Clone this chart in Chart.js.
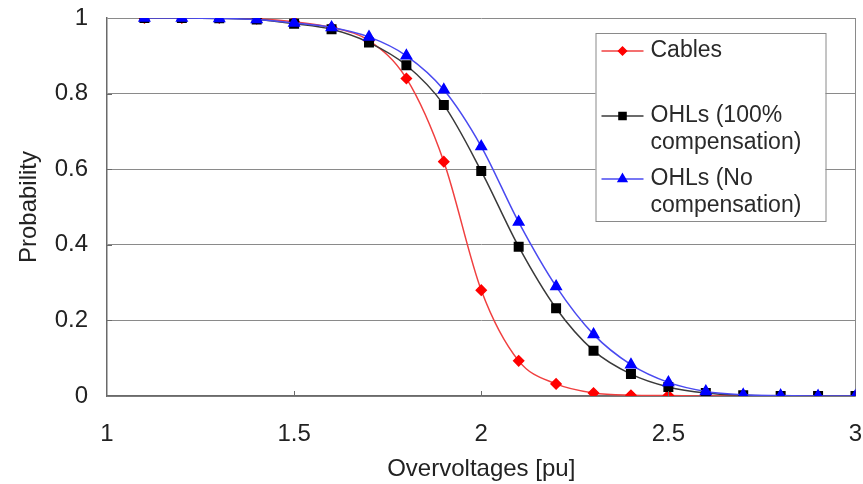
<!DOCTYPE html>
<html>
<head>
<meta charset="utf-8">
<script src="https://cdn.jsdelivr.net/npm/chart.js@4.4.0/dist/chart.umd.min.js"></script>
<style>
  html, body { margin: 0; padding: 0; background: #fff; }
  #wrap { width: 863px; height: 484px; }
</style>
</head>
<body>
<div id="wrap"><canvas id="chart"></canvas></div>
<script>
// Overvoltage values (pu) and probabilities
const overvoltages = [1.1, 1.2, 1.3, 1.4, 1.5, 1.6, 1.7, 1.8, 1.9, 2.0, 2.1, 2.2, 2.3, 2.4, 2.5, 2.6, 2.7, 2.8, 2.9, 3.0];
const cables = [1, 1, 1, 0.998, 0.99, 0.975, 0.94, 0.84, 0.62, 0.28, 0.093, 0.032, 0.008, 0.002, 0.001, 0, 0, 0, 0, 0];
const ohlFull = [1, 1, 0.999, 0.996, 0.985, 0.97, 0.935, 0.875, 0.77, 0.595, 0.395, 0.232, 0.12, 0.058, 0.024, 0.008, 0.002, 0, 0, 0];
const ohlNone = [1, 1, 0.999, 0.996, 0.987, 0.975, 0.95, 0.9, 0.81, 0.66, 0.46, 0.29, 0.163, 0.083, 0.036, 0.012, 0.003, 0.001, 0, 0];
const xTicks = [1, 1.5, 2, 2.5, 3];
const yTicks = [0, 0.2, 0.4, 0.6, 0.8, 1];

const toPoints = vals => overvoltages.map((x, i) => ({ x: x, y: vals[i] }));

// short inward tick marks, like the original plot
const innerTicks = {
    id: 'innerTicks',
    afterDatasetsDraw(chart) {
        const ctx = chart.ctx;
        const { x, y } = chart.scales;
        const a = chart.chartArea;
        ctx.save();
        ctx.strokeStyle = '#6a6a6a';
        ctx.lineWidth = 1;
        xTicks.slice(1, -1).forEach(v => {
            const px = Math.round(x.getPixelForValue(v)) + 0.5;
            ctx.beginPath(); ctx.moveTo(px, a.bottom); ctx.lineTo(px, a.bottom - 5); ctx.stroke();
        });
        yTicks.slice(1, -1).forEach(v => {
            const py = Math.round(y.getPixelForValue(v)) + 0.5;
            ctx.beginPath(); ctx.moveTo(a.left, py); ctx.lineTo(a.left + 5, py); ctx.stroke();
        });
        ctx.restore();
    }
};

// legend drawn by hand so the long labels can wrap over two lines
const boxLegend = {
    id: 'boxLegend',
    afterDraw(chart) {
        const ctx = chart.ctx;
        const area = chart.chartArea;
        const left = area.right - 260, top = area.top + 15;
        ctx.save();
        ctx.fillStyle = '#fff';
        ctx.fillRect(left, top, 230, 188);
        ctx.strokeStyle = '#8a8a8a';
        ctx.lineWidth = 1;
        ctx.strokeRect(left + 0.5, top + 0.5, 230, 188);
        const rows = [
            { ds: 0, lines: ['Cables'], y: 18 },
            { ds: 1, lines: ['OHLs (100%', 'compensation)'], y: 83 },
            { ds: 2, lines: ['OHLs (No', 'compensation)'], y: 146 }
        ];
        ctx.font = '23px "Liberation Sans", Arial, sans-serif';
        ctx.textBaseline = 'middle';
        rows.forEach(r => {
            const ds = chart.data.datasets[r.ds];
            const y = top + r.y;
            ctx.strokeStyle = ds.borderColor;
            ctx.lineWidth = 1.5;
            ctx.beginPath();
            ctx.moveTo(left + 6, y);
            ctx.lineTo(left + 48, y);
            ctx.stroke();
            ctx.fillStyle = ds.pointBackgroundColor;
            ctx.strokeStyle = ds.pointBorderColor;
            Chart.helpers.drawPoint(ctx, {
                pointStyle: ds.pointStyle,
                radius: ds.pointRadius - 1,
                borderWidth: 1
            }, left + 27, y);
            ctx.fillStyle = '#2a2a2a';
            r.lines.forEach((t, k) => ctx.fillText(t, left + 55, y + k * 27));
        });
        ctx.restore();
    }
};

Chart.defaults.font.family = '"Liberation Sans", Arial, sans-serif';
Chart.defaults.color = '#222';

new Chart(document.getElementById('chart'), {
    type: 'line',
    data: {
        datasets: [{
            label: 'Cables',
            data: toPoints(cables),
            borderColor: '#f04040',
            backgroundColor: '#ff0000',
            pointBackgroundColor: '#ff0000',
            pointBorderColor: '#ff0000',
            pointStyle: 'rectRot',
            pointRadius: 5,
            borderWidth: 1.5,
            cubicInterpolationMode: 'monotone',
            order: 2
        }, {
            label: 'OHLs (100% compensation)',
            data: toPoints(ohlFull),
            borderColor: '#3a3a3a',
            backgroundColor: '#000',
            pointBackgroundColor: '#000',
            pointBorderColor: '#000',
            pointStyle: 'rect',
            pointRadius: 6,
            borderWidth: 1.5,
            cubicInterpolationMode: 'monotone',
            order: 1
        }, {
            label: 'OHLs (No compensation)',
            data: toPoints(ohlNone),
            borderColor: '#4a4af0',
            backgroundColor: '#0000ff',
            pointBackgroundColor: '#0000ff',
            pointBorderColor: '#0000ff',
            pointStyle: 'triangle',
            pointRadius: 6,
            borderWidth: 1.5,
            cubicInterpolationMode: 'monotone',
            order: 0
        }]
    },
    options: {
        responsive: true,
        maintainAspectRatio: false,
        animation: false,
        layout: { padding: { left: 15, right: 0, top: 2, bottom: 0 } },
        plugins: {
            legend: { display: false },
            tooltip: { enabled: false }
        },
        scales: {
            x: {
                type: 'linear',
                min: 1,
                max: 3,
                afterBuildTicks: axis => { axis.ticks = xTicks.map(v => ({ value: v })); },
                afterFit: axis => { axis.height = 88; axis.paddingRight = 4; axis.paddingLeft = 0; },
                ticks: { font: { size: 24 }, padding: 24, callback: v => String(v) },
                grid: {
                    drawTicks: false,
                    color: c => c.tick && c.tick.value === 3 ? '#8a8a8a' : 'rgba(0,0,0,0)'
                },
                border: { color: '#6a6a6a', width: 1.5 },
                title: { display: true, text: 'Overvoltages [pu]', font: { size: 24 }, padding: { top: 8, bottom: 0 } }
            },
            y: {
                min: 0,
                max: 1,
                afterBuildTicks: axis => { axis.ticks = yTicks.map(v => ({ value: v })); },
                afterFit: axis => { axis.width = 92; axis.paddingTop = 18; axis.paddingBottom = 0; },
                ticks: { font: { size: 24 }, padding: 19, callback: v => String(v) },
                grid: { drawTicks: false, color: '#8a8a8a', lineWidth: 1 },
                border: { color: '#6a6a6a', width: 1.5 },
                title: { display: true, text: 'Probability', font: { size: 24 }, padding: { top: 0, bottom: 4 } }
            }
        }
    },
    plugins: [innerTicks, boxLegend]
});
</script>
</body>
</html>
